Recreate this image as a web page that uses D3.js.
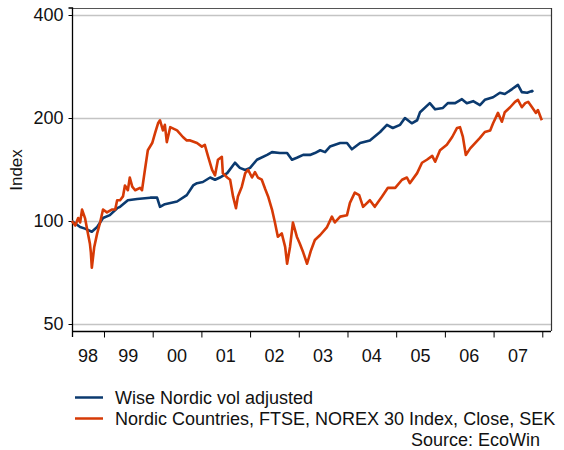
<!DOCTYPE html>
<html>
<head>
<meta charset="utf-8">
<script src="https://cdn.jsdelivr.net/npm/d3@7"></script>
<style>
  html, body { margin: 0; padding: 0; background: #fff; }
  svg { display: block; font-family: "Liberation Sans", Arial, sans-serif; }
</style>
</head>
<body>
<svg id="chart" width="564" height="450"></svg>
<script>
// ---- data (decimal year, index value) ----
const seriesNames = ["Wise Nordic vol adjusted", "Nordic Countries, FTSE, NOREX 30 Index, Close, SEK"];
const yearLabels = ["98","99","00","01","02","03","04","05","06","07"];
const yTicks = [50, 100, 200, 400];

const wiseDates = [1998.34,1998.51,1998.61,1998.75,1998.86,1998.98,1999.12,1999.27,1999.33,1999.49,1999.68,1999.95,2000.09,2000.15,2000.25,2000.50,2000.70,2000.83,2000.91,2001.03,2001.18,2001.28,2001.38,2001.53,2001.69,2001.79,2001.90,2002.00,2002.14,2002.35,2002.45,2002.61,2002.76,2002.86,2002.96,2003.09,2003.23,2003.33,2003.44,2003.54,2003.64,2003.85,2003.99,2004.09,2004.26,2004.46,2004.67,2004.81,2004.93,2005.08,2005.18,2005.32,2005.43,2005.49,2005.69,2005.80,2005.96,2006.06,2006.21,2006.35,2006.45,2006.58,2006.72,2006.82,2006.99,2007.13,2007.23,2007.38,2007.50,2007.58,2007.69,2007.79,2007.81];
const wiseValues = [100,96,95,93,96,102,104,109,110,115,116,117,117,110,112,114,119,127,129,130,134,132,134,138,148,143,141,143,151,156,159,158,158,151,153,156,156,158,161,159,165,169,169,162,169,172,182,191,187,191,200,193,197,208,221,212,214,221,221,227,221,224,218,226,230,237,235,243,250,238,237,240,238];

const norexDates = [1998.34,1998.41,1998.47,1998.51,1998.55,1998.61,1998.67,1998.71,1998.73,1998.75,1998.80,1998.86,1998.92,1998.98,1999.06,1999.16,1999.23,1999.27,1999.33,1999.39,1999.43,1999.49,1999.53,1999.58,1999.64,1999.74,1999.78,1999.84,1999.90,1999.99,2000.05,2000.11,2000.15,2000.21,2000.25,2000.29,2000.36,2000.50,2000.62,2000.70,2000.77,2000.91,2001.01,2001.07,2001.14,2001.22,2001.28,2001.34,2001.42,2001.44,2001.53,2001.59,2001.65,2001.71,2001.75,2001.83,2001.90,2001.96,2002.04,2002.10,2002.16,2002.24,2002.31,2002.37,2002.45,2002.51,2002.57,2002.65,2002.72,2002.76,2002.82,2002.88,2002.96,2003.02,2003.09,2003.17,2003.25,2003.33,2003.44,2003.58,2003.68,2003.74,2003.85,2003.99,2004.05,2004.15,2004.24,2004.32,2004.46,2004.56,2004.71,2004.83,2004.98,2005.12,2005.22,2005.28,2005.43,2005.53,2005.63,2005.74,2005.80,2005.90,2006.04,2006.15,2006.25,2006.31,2006.37,2006.43,2006.52,2006.62,2006.72,2006.82,2006.93,2006.99,2007.09,2007.17,2007.23,2007.34,2007.44,2007.50,2007.58,2007.65,2007.71,2007.79,2007.87,2007.91,2007.99];
const norexValues = [100,97,102,99,108,102,92,86,81,73,84,92,99,108,106,108,108,115,115,118,127,123,134,126,123,125,123,141,161,169,181,193,197,184,191,170,188,184,176,172,172,169,165,167,154,141,136,151,154,138,134,132,118,109,118,126,138,141,134,139,134,132,124,118,108,99,90,92,84,75,84,99,90,86,81,75,82,88,91,96,103,99,103,104,113,121,119,110,115,110,118,125,125,132,134,129,138,148,151,155,149,161,167,176,187,188,176,156,163,169,175,182,184,193,207,195,208,215,223,226,215,221,223,215,207,211,197];

const colors = ["#0b3a6f", "#d63a06"];

// ---- layout ----
const svg = d3.select("#chart");
const L = 72, R = 551, T = 8, B = 331;
const FS = 18;

const x = d3.scaleLinear().domain([1998.343, 2008.179]).range([L, R]);
const y = d3.scaleLog().domain([50 / Math.pow(2, 7/103), 400 * Math.pow(2, 7/103)]).range([B, T]);

// gridlines
svg.append("g").selectAll("line").data(yTicks).join("line")
  .attr("x1", L).attr("x2", R)
  .attr("y1", d => Math.round(y(d)) + 0.5).attr("y2", d => Math.round(y(d)) + 0.5)
  .attr("stroke", "#c4c4c4").attr("stroke-width", 1.3);

// frame top & right
svg.append("line").attr("x1", L).attr("x2", R).attr("y1", T + 0.5).attr("y2", T + 0.5)
  .attr("stroke", "#555").attr("stroke-width", 1.2);
svg.append("line").attr("x1", R + 0.5).attr("x2", R + 0.5).attr("y1", T).attr("y2", B)
  .attr("stroke", "#333").attr("stroke-width", 1.2);

// y axis
const yAxis = d3.axisLeft(y).tickValues(yTicks).tickFormat(d3.format("d")).tickSize(4).tickPadding(5);
const gy = svg.append("g").attr("transform", `translate(${L + 0.5},0)`).call(yAxis);
gy.select(".domain").attr("stroke", "#000").attr("stroke-width", 1.3)
  .attr("d", `M-4,${T}H0V${B + 6}`);
gy.selectAll(".tick line").attr("stroke", "#000");
gy.selectAll(".tick text").attr("font-size", FS).attr("fill", "#111")
  .attr("font-family", "Liberation Sans, Arial, sans-serif");

// x axis: ticks at year starts, labels mid-year
const yearTicks = d3.range(1999, 2009);
const xAxis = d3.axisBottom(x).tickValues(yearTicks).tickFormat("").tickSize(6);
const gx = svg.append("g").attr("transform", `translate(0,${B + 0.5})`).call(xAxis);
gx.select(".domain").attr("stroke", "#000").attr("stroke-width", 1.3)
  .attr("d", `M${L},0H${R}`);
gx.selectAll(".tick line").attr("stroke", "#000");

const labelPos = yearLabels.map((lab, i) => {
  const y0 = 1998 + i;
  const a = Math.max(y0, x.domain()[0]);
  const b = y0 + 1;
  return { lab, cx: (x(a) + x(b)) / 2 };
});
svg.append("g").selectAll("text").data(labelPos).join("text")
  .attr("x", d => d.cx).attr("y", 362)
  .attr("text-anchor", "middle").attr("font-size", FS).attr("fill", "#111")
  .text(d => d.lab);

// y title
svg.append("text").attr("transform", "translate(22,170) rotate(-90)")
  .attr("text-anchor", "middle").attr("font-size", 17).attr("fill", "#111").text("Index");

// lines
const series = [
  { dates: wiseDates, values: wiseValues },
  { dates: norexDates, values: norexValues }
];
const line = d3.line().x(d => x(d[0])).y(d => y(d[1]));
series.forEach((s, i) => {
  const pts = s.dates.map((dt, k) => [dt, s.values[k]]);
  svg.append("path").datum(pts)
    .attr("fill", "none").attr("stroke", colors[i]).attr("stroke-width", 2.6)
    .attr("stroke-linejoin", "round").attr("d", line);
});

// legend
const lg = svg.append("g");
seriesNames.forEach((name, i) => {
  lg.append("line").attr("x1", 75).attr("x2", 103).attr("y1", 397.5 + i * 21).attr("y2", 397.5 + i * 21)
    .attr("stroke", colors[i]).attr("stroke-width", 2.5);
  lg.append("text").attr("x", 115).attr("y", 404 + i * 21).attr("font-size", FS).attr("fill", "#111").text(name);
});
svg.append("text").attr("x", 540).attr("y", 446).attr("text-anchor", "end")
  .attr("font-size", FS).attr("fill", "#111").text("Source: EcoWin");
</script>
</body>
</html>
